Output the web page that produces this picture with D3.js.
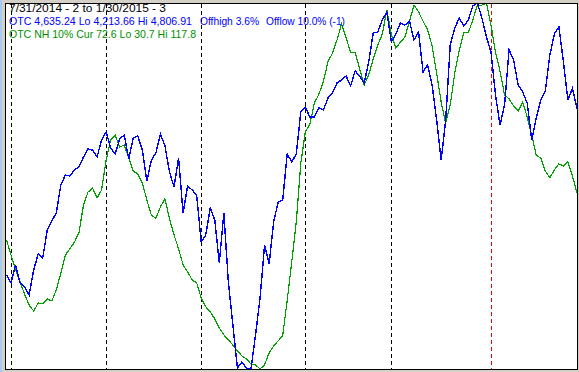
<!DOCTYPE html>
<html>
<head>
<meta charset="utf-8">
<script src="https://cdn.jsdelivr.net/npm/d3@7"></script>
<style>
  html, body { margin: 0; padding: 0; background: #d4d0c8; }
  svg { display: block; }
  .info { font-family: "Liberation Sans", Arial, sans-serif; font-size: 11px; }
</style>
</head>
<body>
<svg id="chart" width="579" height="372"></svg>
<script>
// OTC close, one value per trading day, 7/31/2014 .. 1/30/2015
const otc = [
  4366.0, 4353.1, 4382.2, 4353.1, 4346.6, 4333.6, 4374.1, 4400.1, 4393.6, 4439.0,
  4453.6, 4466.5, 4511.9, 4528.1, 4526.5, 4536.2, 4541.1, 4557.3, 4570.3, 4568.6,
  4557.3, 4584.9, 4597.8, 4571.9, 4562.2, 4586.5, 4593.0, 4554.1, 4588.1, 4591.3,
  4568.6, 4518.4, 4552.4, 4563.8, 4594.6, 4575.1, 4533.0, 4508.7, 4555.7, 4466.5,
  4510.3, 4503.8, 4495.7, 4419.5, 4430.9, 4474.6, 4455.2, 4385.5, 4466.5, 4354.7,
  4285.0, 4215.3, 4225.0, 4215.3, 4213.7, 4268.8, 4328.7, 4414.7, 4383.9, 4451.9,
  4484.4, 4487.6, 4562.2, 4549.2, 4562.2, 4630.2, 4638.3, 4622.1, 4622.1, 4636.7,
  4633.5, 4652.9, 4661.1, 4677.3, 4682.1, 4688.6, 4672.4, 4696.7, 4688.6, 4677.3,
  4711.3, 4758.3, 4759.9, 4779.4, 4792.3, 4743.7, 4756.7, 4774.5, 4771.2, 4777.7,
  4747.0, 4759.9, 4695.1, 4706.4, 4674.0, 4617.3, 4552.4, 4617.3, 4738.8, 4766.4,
  4782.6, 4769.6, 4779.4, 4802.0, 4806.9, 4782.6, 4751.8, 4727.5, 4657.8, 4609.2,
  4641.6, 4730.7, 4714.5, 4674.0, 4662.7, 4644.8, 4584.9, 4620.5, 4649.7, 4664.3,
  4722.6, 4756.7, 4768.0, 4711.3, 4649.7, 4669.1, 4635.24
]

// OTC new highs 10% indicator, same days
const otcNH = [
  61.4, 57.8, 54.3, 51.4, 48.5, 45.9, 44.5, 46.4, 46.2, 47.4,
  46.9, 49.5, 53.5, 57.8, 59.3, 60.9, 63.1, 69.7, 72.8, 73.8,
  71.4, 73.3, 80.4, 85.2, 86.4, 83.5, 84.0, 80.9, 77.8, 77.1,
  75.0, 70.9, 67.3, 66.6, 69.3, 71.2, 66.4, 62.6, 59.3, 55.5,
  53.8, 51.9, 51.2, 47.6, 45.5, 44.3, 42.6, 40.5, 38.8, 37.6,
  36.4, 35.0, 33.8, 33.1, 31.9, 31.7, 30.7, 31.7, 34.5, 36.2,
  37.4, 38.6, 47.1, 56.2, 65.7, 79.7, 87.1, 89.0, 94.0, 96.1,
  99.2, 103.8, 105.9, 109.0, 112.8, 109.5, 106.1, 106.1, 102.1, 98.3,
  100.7, 104.5, 107.8, 110.4, 116.1, 110.2, 107.1, 108.5, 109.7, 113.5,
  117.3, 115.7, 113.5, 111.4, 107.6, 101.1, 94.2, 89.2, 93.5, 101.1,
  106.6, 110.7, 110.7, 113.8, 117.3, 117.3, 117.8, 112.6, 106.1, 101.6,
  95.9, 95.0, 93.3, 92.1, 94.2, 90.7, 86.4, 81.6, 80.9, 77.8,
  76.2, 78.1, 79.5, 79.0, 80.0, 76.6, 72.6
]

// first trading day of each month (index into the series)
const monthStarts = [1, 22, 43, 66, 85, 107]

const headerLines = [
  ['7/31/2014 - 2 to 1/30/2015 - 3'],
  ['OTC 4,635.24 Lo 4,213.66 Hi 4,806.91', 'Offhigh 3.6%', 'Offlow 10.0% (-1)'],
  ['OTC NH 10% Cur 72.6 Lo 30.7 Hi 117.8']
]

const svg = d3.select('#chart')
const plotLeft = 5
const plotTop = 3
const plotRight = 577
const plotBottom = 369

// left window edge
svg.append('rect').attr('x', 0).attr('y', 0).attr('width', 2).attr('height', 372).attr('fill', '#a6caf0')

svg.append('rect')
  .attr('x', plotLeft + 0.5).attr('y', plotTop + 0.5)
  .attr('width', plotRight - plotLeft).attr('height', plotBottom - plotTop)
  .attr('fill', '#fff').attr('stroke', '#000').attr('stroke-width', 1)
  .attr('shape-rendering', 'crispEdges')

const x = d3.scaleLinear().domain([0, otc.length - 1]).range([plotLeft + 1.5, plotRight])
const yOtc = d3.scaleLinear().domain([d3.min(otc), d3.max(otc)]).range([plotBottom, plotTop])
const yNH = d3.scaleLinear().domain([d3.min(otcNH), d3.max(otcNH)]).range([plotBottom, plotTop])

// month separators, the last one (current month) in red
svg.append('g').selectAll('line')
  .data(monthStarts)
  .join('line')
  .attr('x1', d => Math.round(x(d)) + 0.5)
  .attr('x2', d => Math.round(x(d)) + 0.5)
  .attr('y1', plotTop + 1)
  .attr('y2', plotBottom)
  .attr('stroke', (d, i) => i === monthStarts.length - 1 ? '#ff0000' : '#000')
  .attr('stroke-dasharray', '4,3')
  .attr('shape-rendering', 'crispEdges')

const clip = svg.append('clipPath').attr('id', 'plot-clip')
clip.append('rect')
  .attr('x', plotLeft + 1).attr('y', plotTop + 1)
  .attr('width', plotRight - plotLeft - 1).attr('height', plotBottom - plotTop - 1)

const plot = svg.append('g').attr('clip-path', 'url(#plot-clip)')

// the original is drawn without anti-aliasing
plot.append('path')
  .datum(otcNH)
  .attr('fill', 'none')
  .attr('stroke', '#00a000')
  .attr('stroke-width', 1.2)
  .attr('shape-rendering', 'crispEdges')
  .attr('d', d3.line().x((d, i) => x(i)).y(d => yNH(d)))

plot.append('path')
  .datum(otc)
  .attr('fill', 'none')
  .attr('stroke', '#0000ff')
  .attr('stroke-width', 1.4)
  .attr('shape-rendering', 'crispEdges')
  .attr('d', d3.line().x((d, i) => x(i)).y(d => yOtc(d)))

// header text
const lineColors = ['#000', '#0000ff', '#009000']
const pieceX = [9, 200, 266]
const pieceWidth = [[157], [183, 59, 79], [187]]
const info = svg.append('g').attr('class', 'info')
headerLines.forEach(function (pieces, row) {
  pieces.forEach(function (txt, k) {
    info.append('text')
      .attr('x', pieceX[k])
      .attr('y', 12 + row * 13)
      .attr('fill', lineColors[row])
      .attr('textLength', pieceWidth[row][k])
      .attr('lengthAdjust', 'spacingAndGlyphs')
      .text(txt)
  })
})
</script>
</body>
</html>
